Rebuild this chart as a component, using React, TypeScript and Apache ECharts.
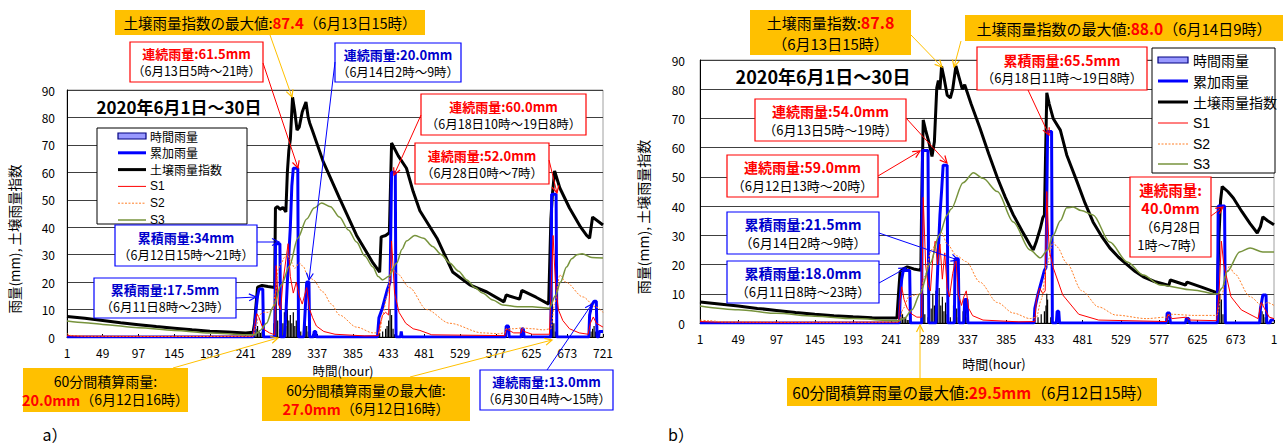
import React, { useEffect, useRef } from "react";
import * as echarts from "echarts";

const FONT = '"Noto Sans CJK JP", "Noto Sans", sans-serif';
const LATIN = '"Liberation Sans", Arial, sans-serif';

// ---------- data (hour index 0..720 => label hour+1) ----------
const hourTicks = [1, 49, 97, 145, 193, 241, 289, 337, 385, 433, 481, 529, 577, 625, 673, 721];
const yTicks = [0, 10, 20, 30, 40, 50, 60, 70, 80, 90];

// a) chart
const leftHourly = [
  [252, 2], [254, 3], [256, 4], [258, 2], [260, 1.5], [262, 2], [278, 5], [280, 8], [281, 20], [283, 6],
  [286, 3], [288, 7], [290, 5], [292, 9], [294, 4], [296, 10], [298, 6], [300, 8], [302, 5], [304, 9],
  [306, 4], [308, 6], [310, 3], [314, 2], [318, 5], [320, 8], [322, 4], [324, 2], [330, 1], [420, 1.5],
  [424, 2], [428, 3], [430, 4], [432, 6], [434, 10], [436, 8], [438, 3], [440, 1], [590, 1], [611, 1],
  [649, 3], [650, 8], [651, 27], [652, 12], [654, 5], [656, 2], [702, 1], [704, 2], [706, 3], [708, 4], [710, 2],
];
const leftCumulative = [
  [0, 0], [250, 0], [252, 3], [254, 10], [256, 15], [258, 17.5], [263, 17.5], [264, 0], [279, 0], [280, 34],
  [286, 34], [287, 0], [292, 0], [294, 8], [296, 20], [298, 30], [300, 40], [302, 55], [304, 61.5], [310, 61.5],
  [311, 0], [318, 0], [320, 10], [322, 20], [325, 20], [326, 0], [331, 0], [332, 2], [334, 2], [335, 0],
  [417, 0], [419, 7], [423, 10], [427, 14], [430, 17], [434, 20], [436, 60], [441, 60], [442, 0], [448, 0],
  [449, 2], [450, 0], [589, 0], [590, 4], [593, 4], [594, 0], [610, 0], [611, 3], [613, 3], [614, 0],
  [650, 0], [651, 52], [657, 52], [658, 0], [701, 0], [702, 8], [705, 11.7], [708, 13], [711, 13], [712, 0],
  [714, 0], [715, 2], [720, 2],
];
const leftSoilIndex = [
  [0, 7.5], [24, 6.8], [48, 6.0], [72, 5.2], [96, 4.5], [120, 3.8], [144, 3.2], [168, 2.6], [192, 2.1], [216, 1.8],
  [240, 1.5], [250, 1.7], [252, 5], [254, 12], [256, 18.2], [262, 18.8], [270, 18.4], [279, 18], [280, 47], [283, 47.5],
  [286, 46.5], [290, 47.2], [294, 45.6], [296, 60], [298, 68], [300, 72], [303, 87.4], [306, 82], [309, 75.4], [312, 76.5],
  [316, 82], [321, 85.6], [324, 80], [326, 78], [330, 75], [344, 64], [366, 50.6], [389, 37], [411, 27], [420, 23.6],
  [422, 36.5], [428, 37], [433, 38], [436, 70.7], [445, 66], [456, 61.5], [465, 53], [474, 46], [497, 36], [518, 23.7],
  [541, 19], [564, 16.4], [587, 12.8], [590, 15.3], [608, 13.8], [611, 17], [630, 14.5], [647, 12], [650, 43], [652, 52],
  [655, 60.5], [662, 54.3], [675, 47], [690, 40], [698, 37], [702, 36], [706, 43.7], [720, 40.8],
];
const leftS1 = [
  [0, 0.5], [20, 0.3], [100, 0.2], [250, 0.3], [252, 4], [255, 8.5], [258, 7], [262, 4], [266, 2.5], [272, 1.5],
  [279, 0.8], [281, 26], [284, 12], [287, 10], [290, 20], [297, 34], [300, 22], [304, 16], [308, 20], [312, 15],
  [316, 12], [319, 15], [322, 18], [326, 10], [330, 7], [335, 4], [345, 2], [360, 1], [400, 0.4], [418, 0.5],
  [420, 4], [424, 8], [428, 9], [432, 8], [436, 35], [440, 16], [446, 9], [455, 5], [465, 3], [474, 2.4],
  [490, 0.8], [588, 0.5], [590, 3], [593, 2.5], [600, 1.5], [610, 1.5], [611, 3], [614, 2], [625, 1], [648, 1],
  [650, 15], [653, 37], [656, 20], [660, 10], [666, 6], [675, 3], [688, 1.5], [700, 1], [703, 5], [707, 7.3],
  [711, 5], [720, 3.6],
];
const leftS2 = [
  [0, 1.3], [6, 0.5], [30, 0.3], [200, 0.2], [250, 0.3], [254, 4], [258, 8], [264, 9], [270, 9], [276, 10],
  [280, 16], [284, 25], [288, 27], [292, 29], [296, 30], [300, 28], [306, 25], [312, 27], [318, 25.5], [322, 23],
  [330, 21], [344, 16.4], [355, 12], [366, 8], [389, 3.6], [411, 1.5], [420, 1.5], [424, 8], [430, 15], [436, 25],
  [444, 23], [460, 18], [483, 10], [514, 5], [558, 1.5], [580, 1.2], [588, 1.5], [590, 3], [600, 3], [611, 3.3],
  [625, 3], [640, 2.6], [650, 3], [655, 12], [662, 22.6], [670, 20], [693, 14.6], [710, 11], [720, 9],
];
const leftS3 = [
  [0, 5.8], [24, 5.2], [48, 4.6], [96, 3.4], [144, 2.4], [192, 1.5], [240, 0.8], [252, 0.8], [260, 2.5], [268, 5],
  [277, 11], [288, 19], [299, 26], [310, 36], [322, 43], [332, 47], [342, 48.8], [354, 47.5], [366, 43.7], [378, 39],
  [389, 34.6], [400, 29.5], [411, 25.5], [418, 22], [424, 20.8], [432, 22], [443, 27], [450, 32], [456, 35], [467, 37],
  [479, 36], [491, 33], [503, 30], [514, 27], [526, 24], [537, 20.8], [548, 18], [558, 16], [572, 13.5], [585, 11.7],
  [605, 11], [625, 11], [640, 10.7], [648, 10.5], [656, 15], [663, 20], [671, 25.5], [678, 28.5], [685, 30], [692, 30.3],
  [705, 29], [720, 28.8],
];

// b) chart
const rightHourly = [
  [250, 2], [252, 4], [254, 3], [256, 2], [258, 2], [260, 1], [262, 1], [278, 6], [279, 29.5], [280, 10],
  [282, 3], [286, 2], [290, 5], [292, 10], [294, 6], [296, 11], [298, 8], [300, 12], [302, 6], [304, 9],
  [306, 4], [308, 7], [310, 3], [314, 2], [318, 6], [320, 10], [322, 5], [324, 2], [330, 4], [333, 6],
  [335, 2], [420, 1], [424, 2], [428, 3], [432, 4], [434, 6], [435, 10], [436, 8], [440, 2], [586, 1],
  [588, 1], [611, 1], [650, 5], [652, 10], [654, 8], [656, 3], [703, 2], [705, 4], [707, 3], [709, 2],
];
const rightCumulative = [
  [0, 0], [250, 0], [251, 8], [253, 15], [255, 18], [263, 18], [264, 0], [278, 0], [279, 59], [286, 59],
  [287, 0], [296, 0], [297, 10], [299, 25], [301, 37], [303, 45], [305, 54], [310, 54], [311, 0], [319, 0],
  [320, 22], [324, 22], [325, 0], [331, 0], [332, 8], [335, 8], [336, 0], [419, 0], [420, 5], [424, 10],
  [428, 14], [432, 18], [434, 19], [436, 65.5], [441, 65.5], [442, 0], [447, 0], [448, 4], [450, 4], [451, 0],
  [585, 0], [586, 3.4], [589, 3.4], [590, 0], [609, 0], [610, 1.5], [613, 1.5], [614, 0], [649, 0], [650, 40],
  [658, 40], [659, 0], [702, 0], [703, 5], [706, 9.6], [710, 9.6], [711, 0], [715, 0], [716, 1], [720, 1],
];
const rightSoilIndex = [
  [0, 7.2], [24, 6.5], [48, 5.8], [72, 5.0], [96, 4.3], [120, 3.6], [144, 3.0], [168, 2.5], [192, 2.1], [216, 1.8],
  [247, 1.7], [249, 10], [251, 17.5], [255, 18.5], [260, 19.2], [268, 18.5], [277, 18], [278, 40], [280, 69.5], [283, 66],
  [287, 62], [291, 57], [294, 62], [297, 80.5], [299, 83], [301, 80], [303, 87.8], [306, 84], [310, 78], [314, 77],
  [317, 80], [321, 88], [325, 84], [329, 80], [332, 81.5], [340, 75], [351, 66.8], [362, 58], [373, 49.7], [383, 43],
  [393, 37], [404, 31.5], [414, 26.7], [418, 25], [422, 28], [427, 32.5], [430, 36], [432, 37], [435, 78.8], [438, 75],
  [443, 70], [452, 66], [460, 57.5], [473, 48.3], [483, 41], [493, 34.6], [503, 30], [514, 25.7], [525, 22.5], [536, 19.9],
  [546, 17.6], [556, 15.8], [570, 14.2], [586, 13], [588, 12.9], [590, 14.7], [609, 13], [611, 14], [630, 12.2], [649, 10.3],
  [651, 30], [653, 42], [655, 46.7], [662, 45], [669, 42.8], [680, 38], [690, 34], [699, 30.8], [703, 33], [706, 36.3],
  [712, 35], [720, 33.6],
];
const rightS1 = [
  [0, 0.5], [20, 0.3], [100, 0.2], [249, 0.3], [251, 8], [253, 12.4], [256, 8], [260, 5], [266, 3], [272, 2],
  [278, 2], [280, 43], [283, 20], [286, 13], [289, 11], [292, 22], [295, 28], [298, 20], [301, 27], [304, 15],
  [307, 24], [310, 12], [313, 9], [317, 17], [321, 22], [324, 10], [328, 6], [331, 9], [334, 11], [337, 5],
  [342, 2.5], [355, 1], [400, 0.4], [420, 0.5], [422, 8], [426, 12], [430, 10], [433, 11], [435, 45], [438, 25],
  [443, 19], [455, 9.6], [475, 3], [500, 1], [585, 0.5], [587, 3], [592, 1.5], [610, 2], [615, 1], [648, 0.8],
  [651, 10], [654, 28], [657, 20], [666, 9], [679, 4.5], [700, 1.5], [704, 7], [708, 5], [714, 2], [720, 1.5],
];
const rightS2 = [
  [0, 1], [10, 0.8], [30, 0.4], [200, 0.3], [250, 0.4], [255, 5], [262, 9], [270, 9.6], [276, 10], [282, 16],
  [290, 25], [303, 31], [310, 27], [322, 23], [334, 21], [351, 14], [373, 7], [393, 3.4], [414, 1.5], [422, 2],
  [428, 8], [435, 20], [443, 27.7], [448, 26], [460, 20.5], [479, 11], [500, 5.5], [522, 2.7], [560, 1.5], [585, 2],
  [590, 3], [620, 2.6], [648, 2.6], [655, 10], [660, 17], [664, 19.5], [670, 17], [690, 9], [705, 6], [712, 7], [720, 6],
];
const rightS3 = [
  [0, 5.8], [48, 4.5], [96, 3.3], [144, 2.3], [192, 1.5], [248, 0.8], [256, 1.5], [266, 4.5], [276, 10], [289, 20.5],
  [300, 30], [310, 37], [315, 39], [330, 48], [343, 51.4], [355, 49.5], [373, 45], [393, 34.6], [414, 25], [427, 22.3],
  [436, 25], [443, 30], [452, 35], [460, 39.4], [468, 39.7], [478, 38.5], [493, 37], [514, 27.7], [536, 20.9], [556, 16.4],
  [577, 13], [618, 11.3], [649, 9.9], [655, 12], [661, 17.5], [677, 24.3], [690, 25.7], [706, 24.3], [720, 24.3],
];

const legendNames = ["時間雨量", "累加雨量", "土壌雨量指数", "S1", "S2", "S3"];

// ---------- helpers for annotations ----------
const RED = "#FF0000";
const BLUE = "#0000FF";
const YEL = "#FFC000";

function makeRich(bold: number, normal: number, lh: number) {
  return {
    r: { fill: RED, fontWeight: "bold", fontSize: bold, fontFamily: FONT, lineHeight: lh },
    b: { fill: "#0000CC", fontWeight: "bold", fontSize: bold, fontFamily: FONT, lineHeight: lh },
    k: { fill: "#000000", fontSize: normal, fontFamily: FONT, lineHeight: lh },
  };
}

function box(x: number, y: number, w: number, h: number, stroke: string | null, fill: string, text: string, rich: any) {
  return [
    {
      type: "rect", z: 100, shape: { x, y, width: w, height: h },
      style: { fill, stroke: stroke || "none", lineWidth: stroke ? 1.2 : 0 },
    },
    {
      type: "text", z: 101, x: x + w / 2, y: y + h / 2,
      style: {
        text, rich, align: "center", verticalAlign: "middle", textAlign: "center", textVerticalAlign: "middle",
        fontFamily: FONT,
      },
    },
  ];
}

function arrow(x1: number, y1: number, x2: number, y2: number, color: string) {
  const a = Math.atan2(y2 - y1, x2 - x1);
  const L = 7, W = 3.5;
  const bx = x2 - L * Math.cos(a), by = y2 - L * Math.sin(a);
  const px = -Math.sin(a) * W, py = Math.cos(a) * W;
  return [
    { type: "line", z: 102, shape: { x1, y1, x2, y2 }, style: { stroke: color, lineWidth: 1 } },
    {
      type: "polyline", z: 102,
      shape: { points: [[bx + px, by + py], [x2, y2], [bx - px, by - py]] },
      style: { stroke: color, lineWidth: 1.2, fill: "none" },
    },
  ];
}

function legend(x: number, y: number, w: number, h: number, rows: number[], sx1: number, sx2: number, tx: number, fs: number) {
  const els: any[] = [
    { type: "rect", z: 100, shape: { x, y, width: w, height: h }, style: { fill: "#fff", stroke: "#000", lineWidth: 1 } },
    { type: "rect", z: 101, shape: { x: sx1, y: rows[0] - 3, width: sx2 - sx1, height: 6 }, style: { fill: "#9999FF", stroke: "#000080", lineWidth: 1.2 } },
    { type: "line", z: 101, shape: { x1: sx1, y1: rows[1], x2: sx2, y2: rows[1] }, style: { stroke: BLUE, lineWidth: 3 } },
    { type: "line", z: 101, shape: { x1: sx1, y1: rows[2], x2: sx2, y2: rows[2] }, style: { stroke: "#000", lineWidth: 3 } },
    { type: "line", z: 101, shape: { x1: sx1, y1: rows[3], x2: sx2, y2: rows[3] }, style: { stroke: RED, lineWidth: 1 } },
    { type: "line", z: 101, shape: { x1: sx1, y1: rows[4], x2: sx2, y2: rows[4] }, style: { stroke: "#FF7F27", lineWidth: 1, lineDash: [2, 1.5] } },
    { type: "line", z: 101, shape: { x1: sx1, y1: rows[5], x2: sx2, y2: rows[5] }, style: { stroke: "#77933C", lineWidth: 1.5 } },
  ];
  legendNames.forEach((n, i) => {
    const latin = i >= 3;
    els.push({
      type: "text", z: 101, x: tx, y: rows[i],
      style: {
        text: n, fill: "#000", fontSize: latin ? fs : fs, lineHeight: fs, fontFamily: latin ? LATIN : FONT,
        align: "left", verticalAlign: "middle", textAlign: "left", textVerticalAlign: "middle",
      },
    });
  });
  return els;
}

function plainText(x: number, y: number, text: string, size: number, bold: boolean, rotation = 0) {
  return {
    type: "text", z: 101, x, y, rotation,
    style: {
      text, fill: "#000", fontSize: size, fontWeight: bold ? "bold" : "normal", fontFamily: FONT,
      align: "center", verticalAlign: "middle", textAlign: "center", textVerticalAlign: "middle",
    },
  };
}

function buildGraphics() {
  const g: any[] = [];
  const r125 = makeRich(13, 12.5, 17);
  const r14 = makeRich(14.5, 14, 18);
  const rB = makeRich(14, 13, 18);
  // --- a) ---
  g.push(...legend(97, 128, 150, 96, [136, 152.8, 169.6, 186.4, 203.2, 220], 118, 146, 150, 12));
  g.push(plainText(179, 106, "2020年6月1日～30日", 17, true));
  g.push(plainText(14, 239, "雨量(mm), 土壌雨量指数", 13.5, false, Math.PI / 2));
  g.push(plainText(343, 370, "時間(hour)", 12.5, false));
  g.push(plainText(55, 434, "a）", 16, false));
  g.push(...arrow(270, 35, 292, 97, YEL));
  g.push(...arrow(263, 63, 298, 168, RED));
  g.push(...arrow(335, 62, 309, 280, BLUE));
  g.push(...arrow(421, 115, 394, 175, RED));
  g.push(...arrow(549, 160, 557, 193, RED));
  g.push(...arrow(257, 242, 279, 242, BLUE));
  g.push(...arrow(236, 298, 256, 297, BLUE));
  g.push(...arrow(173, 368, 278, 338, YEL));
  g.push(...arrow(410, 377, 552, 340, YEL));
  g.push(...arrow(547, 370, 592, 304, BLUE));
  g.push(...box(115, 10, 310, 25, null, YEL, "{k|土壌雨量指数の最大値:}{r|87.4}{k|（6月13日15時）}", makeRich(15, 14.5, 20)));
  g.push(...box(130, 42, 133, 40, RED, "#fff", "{r|連続雨量:61.5mm}\n{k|（6月13日5時～21時）}", r125));
  g.push(...box(335, 43, 126, 39, BLUE, "#fff", "{b|連続雨量:20.0mm}\n{k|（6月14日2時～9時）}", r125));
  g.push(...box(421, 94, 165, 41, RED, "#fff", "{r|連続雨量:60.0mm}\n{k|（6月18日10時～19日8時）}", r125));
  g.push(...box(415, 143, 134, 41, RED, "#fff", "{r|連続雨量:52.0mm}\n{k|（6月28日0時～7時）}", r125));
  g.push(...box(115, 225, 142, 41, BLUE, "#fff", "{b|累積雨量:34mm}\n{k|（6月12日15時～21時）}", r125));
  g.push(...box(94, 278, 142, 40, BLUE, "#fff", "{b|累積雨量:17.5mm}\n{k|（6月11日8時～23時）}", r125));
  g.push(...box(23, 368, 165, 44, null, YEL, "{k|60分間積算雨量:}\n{r|20.0mm}{k|（6月12日16時）}", r14));
  g.push(...box(262, 377, 208, 44, null, YEL, "{k|60分間積算雨量の最大値:}\n{r|27.0mm}{k|（6月12日16時）}", r14));
  g.push(...box(480, 370, 133, 40, BLUE, "#fff", "{b|連続雨量:13.0mm}\n{k|（6月30日4時～15時）}", r125));
  // --- b) ---
  g.push(...legend(1152, 48, 123, 125, [60, 81, 102, 123, 144, 164], 1158, 1188, 1193, 14));
  g.push(plainText(823, 76, "2020年6月1日～30日", 18, true));
  g.push(plainText(643, 217, "雨量(mm), 土壌雨量指数", 14, false, Math.PI / 2));
  g.push(plainText(994, 363, "時間(hour)", 13, false));
  g.push(plainText(681, 434, "b）", 16, false));
  g.push(...arrow(911, 35, 942, 67, YEL));
  g.push(...arrow(961, 41, 954, 67, YEL));
  g.push(...arrow(1028, 90, 1049, 135, RED));
  g.push(...arrow(906, 118, 947, 163, RED));
  g.push(...arrow(878, 176, 920, 151, RED));
  g.push(...arrow(879, 233, 958, 260, BLUE));
  g.push(...arrow(879, 283, 906, 268, BLUE));
  g.push(...arrow(1211, 216, 1223, 207, RED));
  g.push(...arrow(920, 378, 920, 325, YEL));
  g.push(...box(750, 10, 161, 45, null, YEL, "{k|土壌雨量指数:}{r|87.8}\n{k|（6月13日15時）}", makeRich(16, 15, 21)));
  g.push(...box(965, 15, 318, 26, null, YEL, "{k|土壌雨量指数の最大値:}{r|88.0}{k|（6月14日9時）}", makeRich(15.5, 15, 20)));
  g.push(...box(977, 47, 170, 43, RED, "#fff", "{r|累積雨量:65.5mm}\n{k|（6月18日11時～19日8時）}", rB));
  g.push(...box(755, 99, 151, 42, RED, "#fff", "{r|連続雨量:54.0mm}\n{k|（6月13日5時～19時）}", rB));
  g.push(...box(727, 155, 151, 42, RED, "#fff", "{r|連続雨量:59.0mm}\n{k|（6月12日13時～20時）}", rB));
  g.push(...box(727, 212, 152, 42, BLUE, "#fff", "{b|累積雨量:21.5mm}\n{k|（6月14日2時～9時）}", rB));
  g.push(...box(727, 261, 152, 42, BLUE, "#fff", "{b|累積雨量:18.0mm}\n{k|（6月11日8時～23時）}", rB));
  g.push(...box(1130, 177, 81, 80, RED, "#fff", "{r|連続雨量:}\n{r|40.0mm}\n{k|（6月28日}\n{k|1時～7時）}", makeRich(14.5, 13, 18.5)));
  g.push(...box(787, 378, 370, 28, null, YEL, "{k|60分間積算雨量の最大値:}{r|29.5mm}{k|（6月12日15時）}", makeRich(15.5, 15.5, 20)));
  return g;
}

function seriesFor(idx: number, hourly: number[][], cum: number[][], soil: number[][], s1: number[][], s2: number[][], s3: number[][]) {
  const base = { xAxisIndex: idx, yAxisIndex: idx };
  return [
    { ...base, name: legendNames[0], type: "bar", data: hourly, barWidth: 1.2, itemStyle: { color: "#000" }, z: 1 },
    { ...base, name: legendNames[1], type: "line", data: cum, symbol: "none", lineStyle: { color: BLUE, width: 3 }, z: 3 },
    { ...base, name: legendNames[2], type: "line", data: soil, symbol: "none", lineStyle: { color: "#000", width: 3 }, z: 2 },
    { ...base, name: legendNames[3], type: "line", data: s1, symbol: "none", lineStyle: { color: RED, width: 1 }, z: 4 },
    { ...base, name: legendNames[4], type: "line", data: s2, symbol: "none", smooth: 0.3, smoothMonotone: "x", lineStyle: { color: "#FF7F27", width: 1, type: [2, 1.5] }, z: 4 },
    { ...base, name: legendNames[5], type: "line", data: s3, symbol: "none", smooth: 0.3, smoothMonotone: "x", lineStyle: { color: "#77933C", width: 1.5 }, z: 4 },
  ];
}

function xAxisFor(idx: number, lastLabel: string) {
  return {
    gridIndex: idx, type: "value", min: 0, max: 720, interval: 48,
    axisLine: { show: true, onZero: false, lineStyle: { color: "#000", width: 1 } },
    axisTick: { show: true, inside: true, length: 3, lineStyle: { color: "#000" } },
    splitLine: { show: false },
    axisLabel: {
      color: "#000", fontSize: 12, fontFamily: FONT, margin: 9,
      formatter: (v: number) => {
        const lbl = hourTicks[Math.round(v / 48)];
        return v === 720 ? lastLabel : String(lbl);
      },
    },
  };
}

function yAxisFor(idx: number, margin: number) {
  return {
    gridIndex: idx, type: "value", min: 0, max: 90, interval: 10,
    axisLine: { show: true, lineStyle: { color: "#000", width: 1 } },
    axisTick: { show: false },
    splitLine: { show: true, lineStyle: { color: "#404040", width: 1 } },
    axisLabel: { color: "#000", fontSize: 12, fontFamily: FONT, margin, formatter: (v: number) => String(yTicks[Math.round(v / 10)]) },
  };
}

export default function App() {
  const ref = useRef<HTMLDivElement>(null);
  useEffect(() => {
    document.body.style.margin = "0";
    if (!ref.current) return;
    const chart = echarts.init(ref.current, null, { renderer: "svg" });
    chart.setOption({
      animation: false,
      backgroundColor: "#fff",
      textStyle: { fontFamily: FONT },
      grid: [
        { left: 67, top: 90, width: 536, height: 247, show: true, borderColor: "#A0A0A0", borderWidth: 1, backgroundColor: "transparent" },
        { left: 700, top: 60, width: 574, height: 263, show: true, borderColor: "#A0A0A0", borderWidth: 1, backgroundColor: "transparent" },
      ],
      xAxis: [xAxisFor(0, "721"), xAxisFor(1, "1")],
      yAxis: [yAxisFor(0, 12), yAxisFor(1, 15)],
      series: [
        ...seriesFor(0, leftHourly, leftCumulative, leftSoilIndex, leftS1, leftS2, leftS3),
        ...seriesFor(1, rightHourly, rightCumulative, rightSoilIndex, rightS1, rightS2, rightS3),
      ],
      graphic: { elements: buildGraphics() },
    });
    return () => chart.dispose();
  }, []);
  return <div ref={ref} style={{ width: 1285, height: 446, position: "absolute", left: 0, top: 0 }} />;
}
